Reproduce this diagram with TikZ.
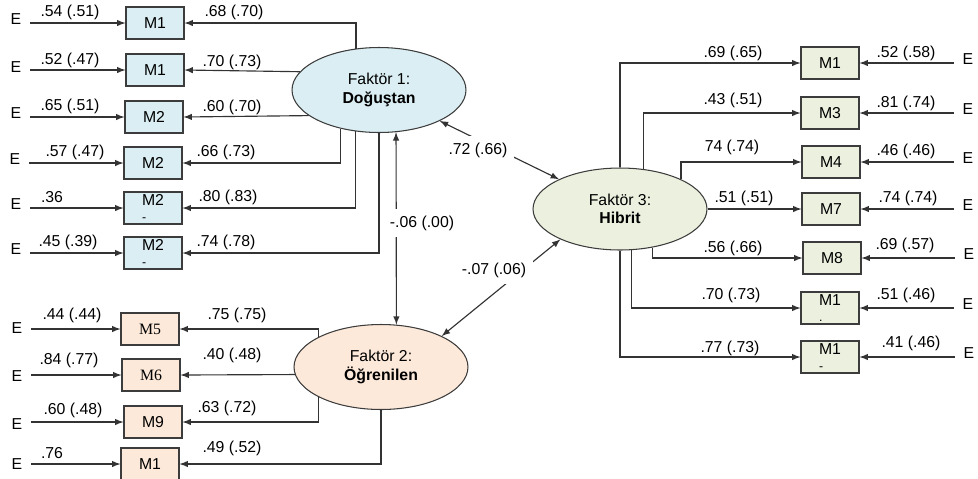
\documentclass[tikz,border=0pt]{standalone}
\usepackage{fontspec}
\setmainfont{Liberation Sans}
\newfontfamily\timesfont{Liberation Serif}
\usetikzlibrary{arrows, shapes.geometric}

\definecolor{fillblue}{HTML}{DAEEF3}
\definecolor{fillpeach}{HTML}{FDE9D9}
\definecolor{fillgreen}{HTML}{EBF1DE}
\definecolor{rim}{HTML}{3C3C3C}

\begin{document}
\begin{tikzpicture}[x=0.02cm, y=-0.02cm, >=latex,
  every node/.style={font=\fontsize{9}{10.5}\selectfont},
  item/.style={draw=rim, line width=0.6pt, minimum width=1.16cm, minimum height=0.64cm, inner sep=1pt, align=left},
  factor/.style={ellipse, draw=rim, line width=0.6pt, minimum width=3.48cm, minimum height=1.7cm, inner sep=0pt, align=center},
  err/.style={inner xsep=5pt, inner ysep=1pt},
  coef/.style={inner sep=1pt},
  wcoef/.style={fill=white, inner xsep=4pt, inner ysep=4pt},
  load/.style={->, draw=black!80, line width=0.65pt},
  cov/.style={<->, draw=black!80, line width=0.65pt}]
\useasboundingbox (0,0) rectangle (978,478);

\node[factor, fill=fillblue] (F1) at (379,90) {Faktör 1:\\\textbf{Doğuştan}};
\node[factor, fill=fillpeach] (F2) at (381,367) {Faktör 2:\\\textbf{Öğrenilen}};
\node[factor, fill=fillgreen, minimum height=1.64cm] (F3) at (620,209) {Faktör 3:\\\textbf{Hibrit}};

\node[item, fill=fillblue] (bA1) at (155,23) {M1};
\node[item, fill=fillblue] (bA2) at (155,70) {M1};
\node[item, fill=fillblue] (bA3) at (154,117) {M2};
\node[item, fill=fillblue] (bA4) at (153,163) {M2};
\node[item, fill=fillblue] (bA5) at (153,208) {M2\\[-1pt]{\scriptsize -}};
\node[item, fill=fillblue] (bA6) at (153,253) {M2\\[-1pt]{\scriptsize -}};

\node[item, fill=fillpeach] (bB1) at (150,329) {\timesfont M5};
\node[item, fill=fillpeach] (bB2) at (151,375) {\timesfont M6};
\node[item, fill=fillpeach] (bB3) at (153,422) {M9};
\node[item, fill=fillpeach] (bB4) at (150,464) {M1};

\node[item, fill=fillgreen] (bR1) at (830,63) {M1};
\node[item, fill=fillgreen] (bR2) at (830,113) {M3};
\node[item, fill=fillgreen] (bR3) at (831,162) {M4};
\node[item, fill=fillgreen] (bR4) at (831,209) {M7};
\node[item, fill=fillgreen] (bR5) at (832,258) {M8};
\node[item, fill=fillgreen] (bR6) at (830,308) {M1\\[-1pt]{\scriptsize .}};
\node[item, fill=fillgreen] (bR7) at (830,357) {M1\\[-1pt]{\scriptsize -}};

\node[err] (eA1) at (16,19) {E};
\node[err] (eA2) at (16,67) {E};
\node[err] (eA3) at (16,113) {E};
\node[err] (eA4) at (15,159) {E};
\node[err] (eA5) at (16,204) {E};
\node[err] (eA6) at (16,249) {E};
\node[err] (eB1) at (17,328) {E};
\node[err] (eB2) at (17,376) {E};
\node[err] (eB3) at (17,424) {E};
\node[err] (eB4) at (17,464) {E};
\node[err] (eR1) at (968,59) {E};
\node[err] (eR2) at (968,109) {E};
\node[err] (eR3) at (968,158) {E};
\node[err] (eR4) at (968,205) {E};
\node[err] (eR5) at (969,254) {E};
\node[err] (eR6) at (968,304) {E};
\node[err] (eR7) at (969,353) {E};

\draw[load] (eA1.east |- bA1) -- (bA1);
\draw[load] (eA2.east |- bA2) -- (bA2);
\draw[load] (eA3.east |- bA3) -- (bA3);
\draw[load] (eA4.east |- bA4) -- (bA4);
\draw[load] (eA5.east |- bA5) -- (bA5);
\draw[load] (eA6.east |- bA6) -- (bA6);
\draw[load] (eB1.east |- bB1) -- (bB1);
\draw[load] (eB2.east |- bB2) -- (bB2);
\draw[load] (eB3.east |- bB3) -- (bB3);
\draw[load] (eB4.east |- bB4) -- (bB4);
\draw[load] (eR1.west |- bR1) -- (bR1);
\draw[load] (eR2.west |- bR2) -- (bR2);
\draw[load] (eR3.west |- bR3) -- (bR3);
\draw[load] (eR4.west |- bR4) -- (bR4);
\draw[load] (eR5.west |- bR5) -- (bR5);
\draw[load] (eR6.west |- bR6) -- (bR6);
\draw[load] (eR7.west |- bR7) -- (bR7);

\draw[load] (F1.119) |- (bA1.east);
\draw[load] (F1.167) -- (bA2.east);
\draw[load] (F1.200) -- (bA3.east);
\draw[load] (F1.225) |- (bA4.east);
\draw[load] (F1.240) |- (bA5.east);
\draw[load] (F1.south) |- (bA6.east);

\draw[load] (F2.154) |- (bB1.east);
\draw[load] (F2.185) -- (bB2.east);
\draw[load] (F2.206) |- (bB3.east);
\draw[load] (F2.south) |- (bB4.east);

\draw[load] (F3.north) |- (bR1.west);
\draw[load] (F3.60) |- (bR2.west);
\draw[load] (F3.26) |- (bR3.west);
\draw[load] (F3.east) -- (bR4.west);
\draw[load] (F3.-50) |- (bR5.west);
\draw[load] (F3.-74) |- (bR6.west);
\draw[load] (F3.south) |- (bR7.west);

\draw[cov] (F1.-68) -- (F2.70);
\draw[cov] (F1.-27) -- (F3.154);
\draw[cov] (F2.27) -- (F3.207);

\node[wcoef] (c12) at (422,223) {-.06 (.00)};
\node[wcoef] (c13) at (478,150) {.72 (.66)};
\node[wcoef] (c23) at (494,270) {-.07 (.06)};

\node[coef] (rA1) at (70,12) {.54 (.51)};
\node[coef] (rA2) at (70,60) {.52 (.47)};
\node[coef] (rA3) at (70,106) {.65 (.51)};
\node[coef] (rA4) at (75,152) {.57 (.47)};
\node[coef] (rA5) at (52,197) {.36};
\node[coef] (rA6) at (68,242) {.45 (.39)};
\node[coef] (rB1) at (72,315) {.44 (.44)};
\node[coef] (rB2) at (69,360) {.84 (.77)};
\node[coef] (rB3) at (73,410) {.60 (.48)};
\node[coef] (rB4) at (52,453) {.76};
\node[coef] (rR1) at (906,53) {.52 (.58)};
\node[coef] (rR2) at (906,103) {.81 (.74)};
\node[coef] (rR3) at (906,151) {.46 (.46)};
\node[coef] (rR4) at (908,198) {.74 (.74)};
\node[coef] (rR5) at (905,245) {.69 (.57)};
\node[coef] (rR6) at (906,295) {.51 (.46)};
\node[coef] (rR7) at (911,343) {.41 (.46)};

\node[coef] (lA1) at (234,12) {.68 (.70)};
\node[coef] (lA2) at (232,62) {.70 (.73)};
\node[coef] (lA3) at (232,107) {.60 (.70)};
\node[coef] (lA4) at (226,152) {.66 (.73)};
\node[coef] (lA5) at (228,197) {.80 (.83)};
\node[coef] (lA6) at (226,242) {.74 (.78)};
\node[coef] (lB1) at (237,315) {.75 (.75)};
\node[coef] (lB2) at (232,355) {.40 (.48)};
\node[coef] (lB3) at (227,408) {.63 (.72)};
\node[coef] (lB4) at (232,448) {.49 (.52)};
\node[coef] (lR1) at (733,53) {.69 (.65)};
\node[coef] (lR2) at (733,100) {.43 (.51)};
\node[coef] (lR3) at (732,147) {74 (.74)};
\node[coef] (lR4) at (744,198) {.51 (.51)};
\node[coef] (lR5) at (733,248) {.56 (.66)};
\node[coef] (lR6) at (731,295) {.70 (.73)};
\node[coef] (lR7) at (730,348) {.77 (.73)};
\end{tikzpicture}
\end{document}
